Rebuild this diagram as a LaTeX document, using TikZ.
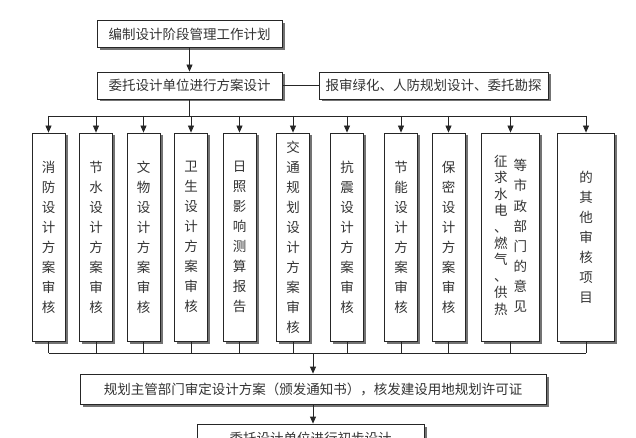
\documentclass[tikz,border=0pt]{standalone}
\usepackage{fontspec}
\setmainfont{Noto Sans CJK SC}
\usetikzlibrary{arrows.meta,shadows}

\begin{document}
\begin{tikzpicture}[
    x=1pt, y=-1pt,
    >={Triangle[length=7pt,width=6pt]},
    hbox/.style={
        rectangle, draw=black!85, fill=white,
        line width=0.8pt,
        inner sep=0pt,
        minimum height=27pt,
        text=black!80,
        font=\fontsize{13.5}{16}\selectfont,
        drop shadow={shadow xshift=2.5pt, shadow yshift=-2.5pt, fill=black!55, opacity=1}
    },
    vbox/.style={
        rectangle, draw=black!85, fill=white,
        line width=0.8pt,
        inner sep=0pt,
        minimum width=33pt,
        minimum height=208pt,
        align=center,
        text=black!80,
        font=\fontsize{13.5}{20}\selectfont,
        drop shadow={shadow xshift=2.5pt, shadow yshift=-2.5pt, fill=black!55, opacity=1}
    },
    link/.style={
        draw=black!85,
        line width=0.8pt
    }
]

\fill[white] (0,0) rectangle (636,438);
\useasboundingbox (0,0) rectangle (636,438);


\node[hbox, minimum width=185pt] (plan) at (189.5,34) {编制设计阶段管理工作计划};
\node[hbox, minimum width=185pt] (commission) at (189.5,85.5) {委托设计单位进行方案设计};
\node[hbox, minimum width=229pt] (report) at (433.5,85.5) {报审绿化、人防规划设计、委托勘探};

\draw[link,->] (plan) -- (commission);
\draw[link] (commission) -- (report);


\node[vbox] (fire)    at ( 48.5,237) {消\\防\\设\\计\\方\\案\\审\\核};
\node[vbox] (water)   at ( 96.0,237) {节\\水\\设\\计\\方\\案\\审\\核};
\node[vbox] (relic)   at (143.5,237) {文\\物\\设\\计\\方\\案\\审\\核};
\node[vbox] (health)  at (191.0,237) {卫\\生\\设\\计\\方\\案\\审\\核};
\node[vbox] (sun)     at (239.5,237) {日\\照\\影\\响\\测\\算\\报\\告};
\node[vbox] (traffic) at (293.0,237) {交\\通\\规\\划\\设\\计\\方\\案\\审\\核};
\node[vbox] (quake)   at (347.0,237) {抗\\震\\设\\计\\方\\案\\审\\核};
\node[vbox] (energy)  at (401.0,237) {节\\能\\设\\计\\方\\案\\审\\核};
\node[vbox] (secret)  at (448.5,237) {保\\密\\设\\计\\方\\案\\审\\核};
\node[vbox, minimum width=58pt] (utility) at (510.5,237) {%
    {\renewcommand\arraystretch{0.82}%
    \begin{tabular}[c]{@{}c@{}}征\\求\\水\\电\\、\\燃\\气\\、\\供\\热\end{tabular}}%
    \hspace{6pt}%
    \begin{tabular}[c]{@{}c@{}}等\\市\\政\\部\\门\\的\\意\\见\end{tabular}};
\node[vbox, minimum width=57pt] (other) at (586.0,237) {的\\其\\他\\审\\核\\项\\目};

\coordinate (topbar) at (0,116);
\coordinate (botbar) at (0,353);

\draw[link] (commission.south) -- (commission.south |- topbar);
\draw[link] (fire.north |- topbar) -- (other.north |- topbar);

\draw[link,->] (fire.north |- topbar) -- (fire.north);
\draw[link,->] (water.north |- topbar) -- (water.north);
\draw[link,->] (relic.north |- topbar) -- (relic.north);
\draw[link,->] (health.north |- topbar) -- (health.north);
\draw[link,->] (sun.north |- topbar) -- (sun.north);
\draw[link,->] (traffic.north |- topbar) -- (traffic.north);
\draw[link,->] (quake.north |- topbar) -- (quake.north);
\draw[link,->] (energy.north |- topbar) -- (energy.north);
\draw[link,->] (secret.north |- topbar) -- (secret.north);
\draw[link,->] (utility.north |- topbar) -- (utility.north);
\draw[link,->] (other.north |- topbar) -- (other.north);

\draw[link] (fire.south) -- (fire.south |- botbar);
\draw[link] (water.south) -- (water.south |- botbar);
\draw[link] (relic.south) -- (relic.south |- botbar);
\draw[link] (health.south) -- (health.south |- botbar);
\draw[link] (sun.south) -- (sun.south |- botbar);
\draw[link] (traffic.south) -- (traffic.south |- botbar);
\draw[link] (quake.south) -- (quake.south |- botbar);
\draw[link] (energy.south) -- (energy.south |- botbar);
\draw[link] (secret.south) -- (secret.south |- botbar);
\draw[link] (utility.south) -- (utility.south |- botbar);
\draw[link] (other.south) -- (other.south |- botbar);
\draw[link] (fire.south |- botbar) -- (other.south |- botbar);


\node[hbox, minimum width=466pt, minimum height=30pt] (approve) at (313,389)
    {规划主管部门审定设计方案（颁发通知书），核发建设用地规划许可证};
\node[hbox, minimum width=227pt, minimum height=28pt] (prelim) at (310.5,438)
    {委托设计单位进行初步设计};

\draw[link,->] (approve.north |- botbar) -- (approve.north);
\draw[link,->] (approve.south) -- (approve.south |- prelim.north);

\end{tikzpicture}
\end{document}
